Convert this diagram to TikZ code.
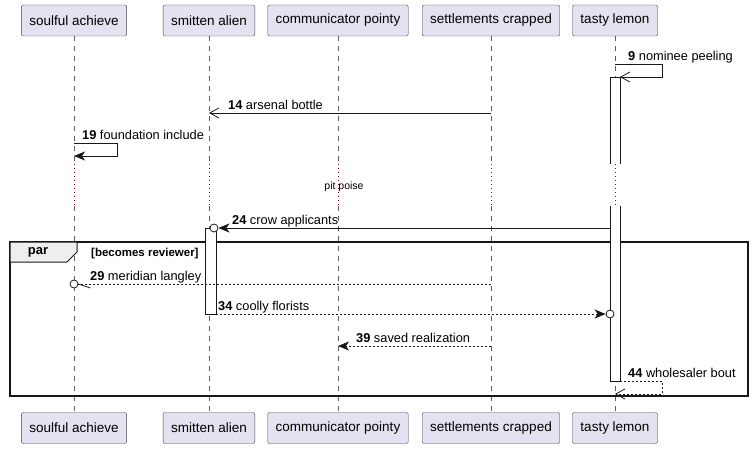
\documentclass[tikz,border=0pt]{standalone}
\usepackage{fontspec}
\setmainfont{Liberation Sans}
\usetikzlibrary{arrows.meta,positioning}

\definecolor{boxfill}{RGB}{226,226,240}
\definecolor{linegray}{RGB}{24,24,24}
\definecolor{delayred}{RGB}{168,0,54}
\definecolor{tabfill}{RGB}{238,238,238}

\tikzset{
  part/.style={draw=linegray!80, fill=boxfill, rounded corners=2pt, minimum height=31pt, inner xsep=8pt, font=\fontsize{13.5}{16}\selectfont},
  life/.style={draw=linegray!70, dash pattern=on 5pt off 5pt, line width=0.6pt},
  delay/.style={draw=delayred, dash pattern=on 1pt off 3pt, line width=0.8pt},
  msg/.style={draw=linegray, line width=0.8pt},
  ret/.style={msg, dash pattern=on 2pt off 2pt},
  opentip/.style={-{Straight Barb[length=9pt,width=10pt]}},
  filltip/.style={-{Stealth[length=11pt,width=9pt,inset=3pt]}},
  ring/.style={circle, draw=linegray, fill=white, line width=0.8pt, minimum size=8pt, inner sep=0pt},
  act/.style={draw=linegray, line width=0.8pt},
  lbl/.style={anchor=base west, inner sep=0pt, font=\fontsize{12.8}{14}\selectfont},
  frame/.style={draw=linegray, line width=1.5pt}
}

\begin{document}
\begin{tikzpicture}[x=1pt,y=-1pt]
  \useasboundingbox (0,0) rectangle (752,449);

  % participants, top and bottom
  \foreach \n/\x/\t in {soul/74/soulful achieve, smit/209/smitten alien, comm/338/communicator pointy, sett/491/settlements crapped, tast/615/tasty lemon} {
    \node[part] (\n T) at (\x,20.5) {\t};
    \node[part] (\n B) at (\x,428) {\t};
    \coordinate (\n-d1) at (\x,164);
    \coordinate (\n-d2) at (\x,206);
    \draw[life] (\n T.south) -- (\n-d1);
    \draw[delay] (\n-d1) -- (\n-d2);
    \draw[life] (\n-d2) -- (\n B.north);
  }

  % delay text
  \node[inner sep=0pt, font=\fontsize{10.5}{12}\selectfont] (pit) at (344,187) {pit poise};

  % par frame
  \draw[frame] (10,242) rectangle (748,396);
  \draw[line width=1pt, draw=linegray, fill=tabfill] (10,242) -- (77,242) -- (77,252) -- (67,262) -- (10,262) -- cycle;
  \node[font=\bfseries\fontsize{13}{14}\selectfont, inner sep=0pt] (par) at (38,252.5) {par};
  \node[lbl, font=\bfseries\fontsize{11.5}{12}\selectfont] (cond) at (91,256.5) {[becomes reviewer]};

  % activations
  \fill[white] (610,77) rectangle (620,164);
  \draw[act] (610,164) -- (610,77) -- (620,77) -- (620,164);
  \fill[white] (610,206) rectangle (620,381);
  \draw[act] (610,206) -- (610,381) -- (620,381) -- (620,206);
  \fill[white] (205,228) rectangle (216,314);
  \draw[act] (205,228) rectangle (216,314);

  % 9
  \coordinate (m9a) at (615,64);
  \coordinate (m9b) at (620,77);
  \draw[msg, opentip] (m9a) -- (662,64) -- (662,77) -- (m9b);
  \node[lbl] at (628,60.5) {\textbf{9} nominee peeling};

  % 14
  \coordinate (m14a) at (491,113);
  \coordinate (m14b) at (209,113);
  \draw[msg, opentip] (m14a) -- (m14b);
  \node[lbl] at (228,109.5) {\textbf{14} arsenal bottle};

  % 19
  \coordinate (m19a) at (74,143);
  \coordinate (m19b) at (74,156);
  \draw[msg, filltip] (m19a) -- (117,143) -- (117,156) -- (m19b);
  \node[lbl] at (82,139.5) {\textbf{19} foundation include};

  % 24
  \coordinate (m24a) at (610,228);
  \node[ring] (c24) at (214,228) {};
  \draw[msg, filltip] (m24a) -- (c24);
  \node[lbl] at (232,224.5) {\textbf{24} crow applicants};

  % 29
  \coordinate (m29a) at (491,284);
  \node[ring] (c29) at (74,284) {};
  \draw[ret] (m29a) -- (c29);
  \draw[msg] (c29.east) -- ++(12,4);
  \node[lbl] at (90,280.5) {\textbf{29} meridian langley};

  % 34
  \coordinate (m34a) at (216,314);
  \node[ring] (c34) at (610,314) {};
  \draw[ret, filltip] (m34a) -- (c34);
  \node[lbl] at (218,310.5) {\textbf{34} coolly florists};

  % 39
  \coordinate (m39a) at (491,346);
  \coordinate (m39b) at (338,346);
  \draw[ret, filltip] (m39a) -- (m39b);
  \node[lbl] at (356,342.5) {\textbf{39} saved realization};

  % 44
  \coordinate (m44a) at (620,381);
  \coordinate (m44b) at (615,394);
  \draw[ret, opentip] (m44a) -- (662,381) -- (662,394) -- (m44b);
  \node[lbl] at (628,377.5) {\textbf{44} wholesaler bout};
\end{tikzpicture}
\end{document}
